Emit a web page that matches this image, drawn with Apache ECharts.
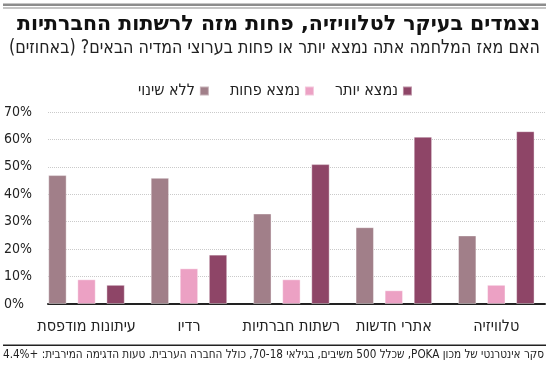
<!DOCTYPE html>
<html><head><meta charset="utf-8">
<script src="https://cdn.jsdelivr.net/npm/echarts@6/dist/echarts.min.js"></script>
<style>html,body{margin:0;padding:0;background:#fff}#c{width:550px;height:372px}</style>
</head><body><div id="c"></div>
<script>
// ---- data ----
const categories = ['עיתונות מודפסת', 'רדיו', 'רשתות חברתיות', 'אתרי חדשות', 'טלוויזיה'];
const seriesNames = ['ללא שינוי', 'נמצא פחות', 'נמצא יותר'];
const noChange = [47, 46, 33, 28, 25];
const less = [9, 13, 9, 5, 7];
const more = [7, 18, 51, 61, 63];
const yMin = 0, yMax = 70, yStep = 10;
const titleText = 'נצמדים בעיקר לטלוויזיה, פחות מזה לרשתות החברתיות';
const subtitleText = 'האם מאז המלחמה אתה נמצא יותר או פחות בערוצי המדיה הבאים? (באחוזים)';
const sourceText = 'סקר אינטרנטי של מכון POKA, שכלל 500 משיבים, בגילאי 70-18, כולל החברה הערבית. טעות הדגימה המירבית: +4.4%';

// ---- style ----
const FONT = '"Liberation Sans Narrow","DejaVu Sans Condensed","Liberation Sans",sans-serif';
const colors = ['#a17f89', '#eca1c4', '#8e4567'];
const rtl = s => '\u202B' + s + '\u202C';
const ctx = document.createElement('canvas').getContext('2d');
function fitScale(text, font, target) {
  ctx.font = font;
  return target / ctx.measureText(text).width;
}
const titleFont = 'bold 21px "DejaVu Sans","Liberation Sans",sans-serif';
const subFont = '19px ' + FONT;
const srcFont = '12px ' + FONT;

const chart = echarts.init(document.getElementById('c'), null, {renderer: 'canvas'});
const mkText = (text, font, xRight, y, width, color) => {
  const t = rtl(text);
  return {
    type: 'text', x: xRight, y: y, originX: 0, originY: 0,
    scaleX: fitScale(t, font, width), silent: true,
    style: {text: t, font: font, fill: color, align: 'right', verticalAlign: 'middle'}
  };
};

chart.setOption({
  animation: false,
  color: colors,
  grid: [
    {left: 48, right: 5, top: 112, bottom: 68},
    {left: 35.3, right: 2.5, top: 112, bottom: 68}
  ],
  legend: {
    data: seriesNames, left: 133, top: 78, align: 'right',
    itemWidth: 9, itemHeight: 9, itemGap: 20, icon: 'rect',
    textStyle: {fontSize: 16, fontFamily: FONT, color: '#222'}
  },
  xAxis: [
    {gridIndex: 0, type: 'category', data: categories,
     axisLine: {lineStyle: {color: '#222', width: 2}}, axisTick: {show: false}, axisLabel: {show: false}},
    {gridIndex: 1, type: 'category', data: categories,
     axisLine: {show: false}, axisTick: {show: false},
     axisLabel: {interval: 0, fontSize: 16, fontFamily: FONT, color: '#222', margin: 15}}
  ],
  yAxis: [
    {gridIndex: 0, type: 'value', min: yMin, max: yMax, interval: yStep,
     axisLine: {show: false}, axisTick: {show: false},
     axisLabel: {formatter: '{value}%', align: 'left', margin: 44, fontSize: 14, fontFamily: FONT, color: '#222'},
     splitLine: {lineStyle: {color: '#cacaca', type: 'dotted', width: 1}}},
    {gridIndex: 1, type: 'value', min: yMin, max: yMax, interval: yStep, show: false, splitLine: {show: false}}
  ],
  series: [noChange, less, more].map((d, i) => ({
    name: seriesNames[i], type: 'bar', data: d, xAxisIndex: 1, yAxisIndex: 1,
    barWidth: 18.4, barGap: '58%',
    itemStyle: {borderColor: 'rgba(255,255,255,0.4)', borderWidth: 1}
  })),
  graphic: [
    {type: 'rect', shape: {x: 3, y: 3.5, width: 543, height: 2.5}, style: {fill: '#8c8c8c'}, silent: true},
    {type: 'rect', shape: {x: 3, y: 7.5, width: 543, height: 1}, style: {fill: '#8c8c8c'}, silent: true},
    mkText(titleText, titleFont, 540, 25, 523, '#111'),
    mkText(subtitleText, subFont, 540, 48, 531, '#222'),
    {type: 'rect', shape: {x: 3, y: 344.5, width: 543, height: 1.5}, style: {fill: '#222'}, silent: true},
    mkText(sourceText, srcFont, 544, 355, 541, '#222')
  ]
});
</script></body></html>
